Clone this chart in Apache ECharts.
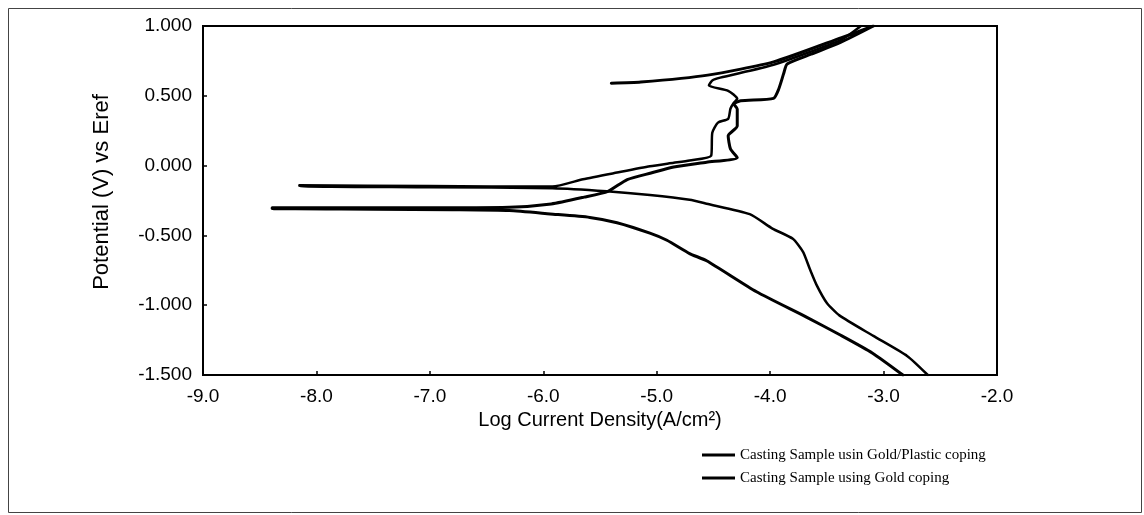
<!DOCTYPE html>
<html>
<head>
<meta charset="utf-8">
<script src="https://cdn.jsdelivr.net/npm/echarts/dist/echarts.min.js"></script>
<style>
html,body{margin:0;padding:0;background:#fff;}
#chart{width:1144px;height:515px;}
</style>
</head>
<body>
<div id="chart"></div>
<script>
// ---- axis settings ----
const xMin = -9, xMax = -2, xStep = 1;
const yMin = -1.5, yMax = 1.0, yStep = 0.5;
const xTitle = 'Log Current Density(A/cm\u00B2)';
const yTitle = 'Potential (V) vs Eref';
const seriesNames = ['Casting Sample usin Gold/Plastic coping', 'Casting Sample using Gold coping'];

// ---- Gold/Plastic coping: log i (A/cm2) and potential (V), in scan order ----
const gpCathLogI = [-2.83, -3.10, -3.39, -3.68, -4.12, -4.56, -4.71, -4.91, -5.06, -5.35, -5.59, -5.94, -6.30, -6.80, -7.50, -8.39];
const gpCathE    = [-1.50, -1.342, -1.21, -1.085, -0.904, -0.682, -0.63, -0.535, -0.484, -0.409, -0.371, -0.346, -0.322, -0.316, -0.312, -0.308];
const gpAnodLogI = [-8.39, -7.30, -6.30, -5.93, -5.64, -5.43, -5.26, -5.05, -4.85, -4.56, -4.29, -4.35, -4.37, -4.29, -4.29, -4.32, -4.26, -3.97, -3.925, -3.88, -3.85, -3.64, -3.38, -3.09];
const gpAnodE    = [-0.302, -0.302, -0.298, -0.275, -0.226, -0.184, -0.10, -0.053, -0.01, 0.024, 0.057, 0.12, 0.213, 0.284, 0.406, 0.441, 0.464, 0.482, 0.547, 0.661, 0.728, 0.798, 0.882, 1.0];
const gpRevLogI  = [-3.37, -3.97, -4.55, -5.14, -5.40];
const gpRevE     = [0.917, 0.743, 0.648, 0.598, 0.59];

// ---- Gold coping ----
const gCathLogI = [-2.61, -2.79, -3.09, -3.39, -3.50, -3.59, -3.65, -3.71, -3.80, -3.98, -4.18, -4.56, -4.71, -5.06, -5.44, -5.92, -7.00, -8.15];
const gCathE    = [-1.50, -1.365, -1.22, -1.073, -0.984, -0.856, -0.741, -0.618, -0.524, -0.451, -0.348, -0.273, -0.245, -0.211, -0.184, -0.162, -0.155, -0.148];
const gAnodLogI = [-8.15, -7.00, -5.92, -5.65, -5.35, -5.06, -4.85, -4.71, -4.52, -4.51, -4.46, -4.37, -4.35, -4.32, -4.29, -4.37, -4.54, -4.51, -4.44, -3.97, -3.37, -3.20];
const gAnodE    = [-0.140, -0.147, -0.150, -0.098, -0.05, -0.005, 0.02, 0.037, 0.071, 0.236, 0.308, 0.335, 0.407, 0.45, 0.478, 0.536, 0.574, 0.61, 0.63, 0.722, 0.903, 1.0];

function pairs(xs, ys){ return xs.map((x,i)=>[x, ys[i]]); }
const gpData = [].concat(pairs(gpCathLogI, gpCathE), pairs(gpAnodLogI, gpAnodE), pairs(gpRevLogI, gpRevE));
const gData  = [].concat(pairs(gCathLogI, gCathE), pairs(gAnodLogI, gAnodE));

const sans = 'Liberation Sans';
const chart = echarts.init(document.getElementById('chart'), null, {renderer:'canvas'});
chart.setOption({
  backgroundColor:'#fff',
  animation:false,
  graphic:[{
    type:'rect', z:-1, silent:true,
    shape:{x:8.5, y:8.5, width:1133, height:504},
    style:{fill:null, stroke:'#444', lineWidth:1}
  }],
  grid:{left:203, right:147, top:26, bottom:140, show:true, borderColor:'#000', borderWidth:2, backgroundColor:'transparent'},
  legend:{
    orient:'vertical', left:697, top:442,
    itemWidth:33, itemHeight:3, itemGap:7, icon:'rect',
    textStyle:{fontFamily:'Liberation Serif', fontSize:15, color:'#000', lineHeight:16},
    data:seriesNames
  },
  xAxis:{
    type:'value', min:xMin, max:xMax, interval:xStep,
    name:xTitle, nameLocation:'middle', nameGap:34,
    nameTextStyle:{fontFamily:sans, fontSize:20, color:'#000'},
    axisLine:{show:true, onZero:false, lineStyle:{color:'#000', width:2}},
    axisTick:{show:true, inside:true, length:4, lineStyle:{color:'#000', width:1.5}},
    axisLabel:{fontFamily:sans, fontSize:19, color:'#000', margin:12, formatter:v=>v.toFixed(1)},
    splitLine:{show:false}
  },
  yAxis:{
    type:'value', min:yMin, max:yMax, interval:yStep,
    name:yTitle, nameLocation:'middle', nameGap:90, nameRotate:90,
    nameTextStyle:{fontFamily:sans, fontSize:22, color:'#000', padding:[0,0,0,17]},
    axisLine:{show:true, onZero:false, lineStyle:{color:'#000', width:2}},
    axisTick:{show:true, inside:true, length:4, lineStyle:{color:'#000', width:1.5}},
    axisLabel:{fontFamily:sans, fontSize:19, color:'#000', margin:11, formatter:v=>v.toFixed(3)},
    splitLine:{show:false}
  },
  series:[
    {name:seriesNames[0], type:'line', data:gpData, showSymbol:false, symbol:'none', silent:true, smooth:0.2,
     lineStyle:{color:'#000', width:3, join:'round', cap:'round'}, itemStyle:{color:'#000'}},
    {name:seriesNames[1], type:'line', data:gData, showSymbol:false, symbol:'none', silent:true, smooth:0.2,
     lineStyle:{color:'#000', width:2.5, join:'round', cap:'round'}, itemStyle:{color:'#000'}}
  ]
});
</script>
</body>
</html>
